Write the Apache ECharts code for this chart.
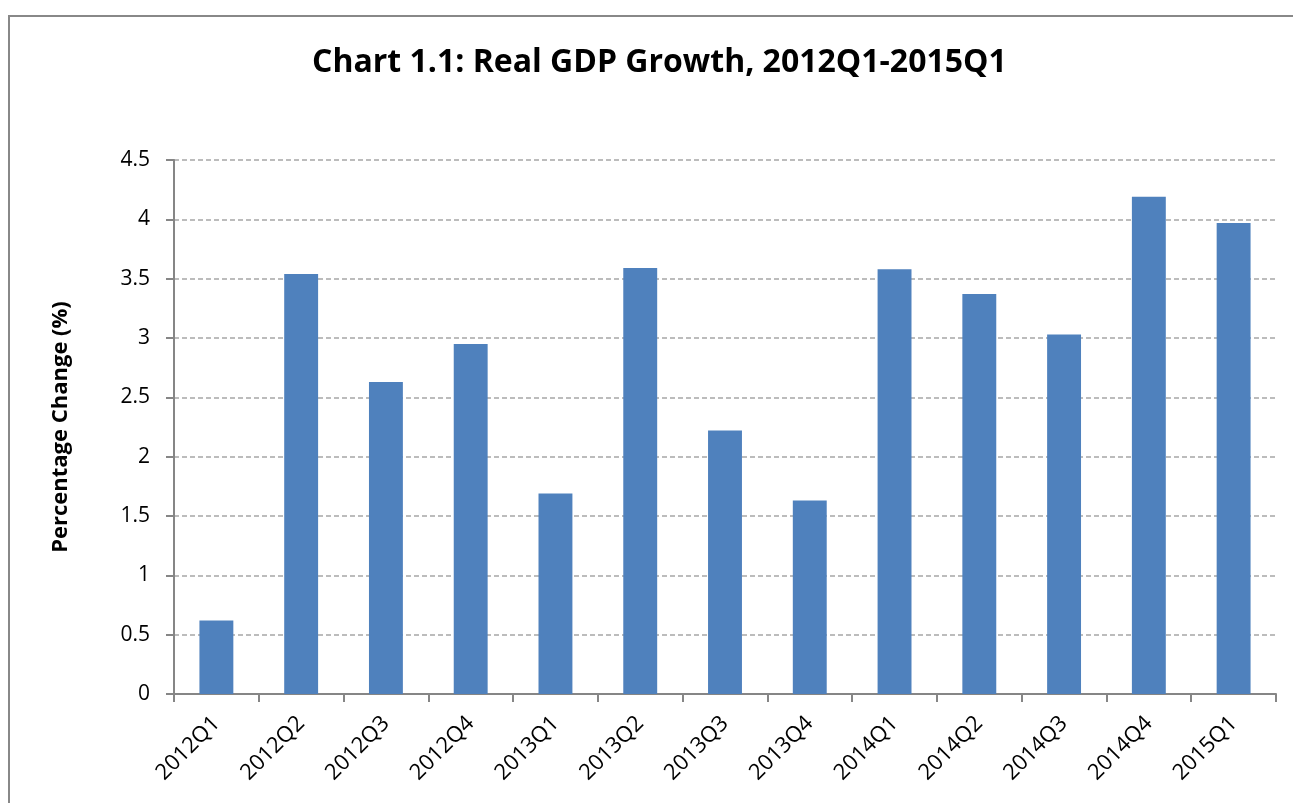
<!DOCTYPE html>
<html>
<head>
<meta charset="utf-8">
<script src="https://cdn.jsdelivr.net/npm/echarts@6/dist/echarts.min.js"></script>
<style>
html,body{margin:0;padding:0;background:#fff;overflow:hidden;}
#frame{position:absolute;left:8px;top:15px;width:1400px;height:900px;border:2px solid #888;box-sizing:border-box;}
#chart{position:absolute;left:0;top:0;width:1293px;height:803px;}
</style>
</head>
<body>
<div id="frame"></div>
<div id="chart"></div>
<script>
const categories = ['2012Q1','2012Q2','2012Q3','2012Q4','2013Q1','2013Q2','2013Q3','2013Q4','2014Q1','2014Q2','2014Q3','2014Q4','2015Q1'];
const growth = [0.62, 3.54, 2.63, 2.95, 1.69, 3.59, 2.22, 1.63, 3.58, 3.37, 3.03, 4.19, 3.97];
const yTicks = {min: 0, max: 4.5, interval: 0.5};
const titleText = 'Chart 1.1: Real GDP Growth, 2012Q1-2015Q1';
const yName = 'Percentage Change (%)';

const font = '"Open Sans", "Liberation Sans", sans-serif';
const chart = echarts.init(document.getElementById('chart'), null, {renderer: 'canvas'});
chart.setOption({
  backgroundColor: 'transparent',
  animation: false,
  title: {
    text: titleText,
    left: 307,
    top: 42,
    textStyle: {fontFamily: font, fontWeight: 'bold', fontSize: 32, color: '#000'}
  },
  grid: {left: 174, right: 17, top: 160, bottom: 109, containLabel: false},
  xAxis: {
    type: 'category',
    data: categories,
    boundaryGap: true,
    axisLine: {lineStyle: {color: '#868686', width: 2}},
    axisTick: {show: true, alignWithLabel: false, length: 8, lineStyle: {color: '#868686', width: 2}},
    axisLabel: {rotate: 45, fontFamily: font, fontSize: 22, color: '#000', margin: 26, interval: 0}
  },
  yAxis: {
    type: 'value',
    min: yTicks.min, max: yTicks.max, interval: yTicks.interval,
    name: yName,
    nameLocation: 'middle',
    nameGap: 102,
    nameRotate: 90,
    nameTextStyle: {fontFamily: font, fontWeight: 'bold', fontSize: 22, color: '#000'},
    axisLine: {show: true, lineStyle: {color: '#868686', width: 2}},
    axisTick: {show: true, length: 8, lineStyle: {color: '#868686', width: 2}},
    axisLabel: {fontFamily: font, fontSize: 21, color: '#000', margin: 24},
    splitLine: {show: true, lineStyle: {color: '#A6A6A6', type: [5, 3], width: 1.5}}
  },
  series: [{
    type: 'bar',
    data: growth,
    barWidth: '40%',
    itemStyle: {color: '#4F81BD'}
  }]
});
</script>
</body>
</html>
